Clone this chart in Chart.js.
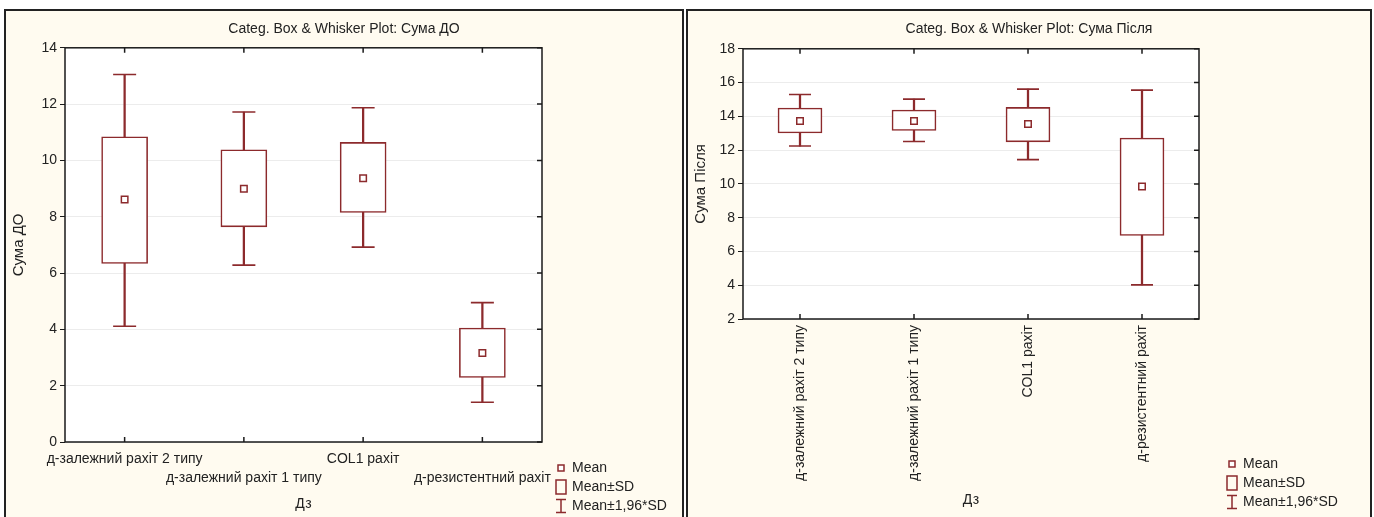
<!DOCTYPE html>
<html lang="uk">
<head>
  <meta charset="UTF-8" />
  <title>Categ. Box & Whisker Plot</title>
  <script src="https://cdn.jsdelivr.net/npm/chart.js"></script>
  <style>
    body {
      margin: 0;
      width: 1374px;
      height: 517px;
      background: #fff;
      font-family: "Liberation Sans", Arial, sans-serif;
      overflow: hidden;
      position: relative;
    }
    .panel {
      position: absolute;
      top: 9px;
      height: 520px;
      background: #fffbf0;
      border: 2px solid #222;
      box-sizing: border-box;
    }
    .panel canvas {
      position: absolute;
      left: 0;
      top: 0;
    }
    .legend {
      position: absolute;
      font-size: 14px;
      color: #222;
    }
    .legend div {
      position: relative;
      height: 19px;
      line-height: 19px;
      padding-left: 17px;
    }
    .legend svg {
      position: absolute;
      left: 0;
      top: 2px;
    }
  </style>
</head>
<body>
  <div class="panel" style="left:4px; width:680px;">
    <canvas id="chartDo" width="676" height="506"></canvas>
  </div>
  <div class="panel" style="left:686px; width:686px;">
    <canvas id="chartPislia" width="682" height="506"></canvas>
  </div>

  <div class="legend" style="left:555px; top:458px;">
    <div><svg width="12" height="16"><rect x="3" y="5" width="6" height="6" fill="#fff" stroke="#8c2a2c" stroke-width="1.5"/></svg>Mean</div>
    <div><svg width="12" height="16"><rect x="1" y="1" width="10" height="14" fill="none" stroke="#8c2a2c" stroke-width="1.5"/></svg>Mean±SD</div>
    <div><svg width="12" height="16"><path d="M1 1.5H11M6 1.5V14.5M1 14.5H11" fill="none" stroke="#8c2a2c" stroke-width="1.5"/></svg>Mean±1,96*SD</div>
  </div>
  <div class="legend" style="left:1226px; top:454px;">
    <div><svg width="12" height="16"><rect x="3" y="5" width="6" height="6" fill="#fff" stroke="#8c2a2c" stroke-width="1.5"/></svg>Mean</div>
    <div><svg width="12" height="16"><rect x="1" y="1" width="10" height="14" fill="none" stroke="#8c2a2c" stroke-width="1.5"/></svg>Mean±SD</div>
    <div><svg width="12" height="16"><path d="M1 1.5H11M6 1.5V14.5M1 14.5H11" fill="none" stroke="#8c2a2c" stroke-width="1.5"/></svg>Mean±1,96*SD</div>
  </div>

  <script>
    // categories (Дз)
    const categories = ["д-залежний рахіт 2 типу", "д-залежний рахіт 1 типу", "COL1 рахіт", "д-резистентний рахіт"];

    // Сума ДО
    const yTicksDo = [0, 2, 4, 6, 8, 10, 12, 14];
    const meanDo   = [8.61, 8.99, 9.37, 3.16];
    const sdLowDo  = [6.34, 7.64, 8.15, 2.29];
    const sdHighDo = [10.84, 10.38, 10.64, 4.05];
    const ciLowDo  = [4.11, 6.28, 6.92, 1.41];
    const ciHighDo = [13.05, 11.72, 11.87, 4.95];

    // Сума Після
    const yTicksPislia = [2, 4, 6, 8, 10, 12, 14, 16, 18];
    const meanPislia   = [13.73, 13.73, 13.55, 9.85];
    const sdLowPislia  = [13.02, 13.16, 12.49, 6.95];
    const sdHighPislia = [14.49, 14.37, 14.53, 12.72];
    const ciLowPislia  = [12.24, 12.51, 11.44, 4.02];
    const ciHighPislia = [15.29, 15.02, 15.61, 15.55];

    const RED = "#8c2a2c";
    const FONT = "'Liberation Sans', Arial, sans-serif";

    // white plot area, black frame and inward ticks like the original
    const framePlugin = {
      id: "frame",
      beforeDraw(chart) {
        const { ctx, chartArea: a } = chart;
        ctx.save();
        ctx.fillStyle = "#fff";
        ctx.fillRect(a.left, a.top, a.width, a.height);
        ctx.restore();
      },
      afterDraw(chart) {
        const { ctx, chartArea: a, scales } = chart;
        ctx.save();
        ctx.strokeStyle = "#1a1a1a";
        ctx.lineWidth = 1.5;
        ctx.strokeRect(a.left, a.top, a.width, a.height);
        ctx.beginPath();
        scales.x.ticks.forEach((t, i) => {
          const px = scales.x.getPixelForTick(i);
          ctx.moveTo(px, a.top); ctx.lineTo(px, a.top + 5);
          ctx.moveTo(px, a.bottom); ctx.lineTo(px, a.bottom - 5);
        });
        scales.y.ticks.forEach((t, i) => {
          const py = scales.y.getPixelForTick(i);
          ctx.moveTo(a.right, py); ctx.lineTo(a.right - 5, py);
        });
        ctx.stroke();
        ctx.restore();
      }
    };

    function makeChart(id, o) {
      const ctx = document.getElementById(id).getContext("2d");
      return new Chart(ctx, {
        type: "bar",
        data: {
          labels: categories,
          datasets: [
            {
              type: "line", data: o.mean, showLine: false, order: 0,
              pointStyle: "rect", pointRadius: 4.6,
              pointBackgroundColor: "#fff", pointBorderColor: RED, pointBorderWidth: 1.5
            },
            {
              type: "line", data: o.ciHigh, showLine: false, order: 1,
              pointStyle: "line", pointRadius: o.cap, pointBorderColor: RED, pointBorderWidth: 1.6
            },
            {
              type: "line", data: o.ciLow, showLine: false, order: 1,
              pointStyle: "line", pointRadius: o.cap, pointBorderColor: RED, pointBorderWidth: 1.6
            },
            {
              data: o.sdLow.map((v, i) => [v, o.sdHigh[i]]), order: 2, grouped: false,
              barThickness: o.box, backgroundColor: "#fff", borderColor: RED,
              borderWidth: 1.6, borderSkipped: false
            },
            {
              data: o.ciLow.map((v, i) => [v, o.ciHigh[i]]), order: 3, grouped: false,
              barThickness: 1.6, backgroundColor: RED, borderWidth: 0
            }
          ]
        },
        options: {
          responsive: false,
          animation: false,
          events: [],
          plugins: {
            legend: { display: false },
            tooltip: { enabled: false },
            title: {
              display: true, text: o.title, color: "#222",
              font: { family: FONT, size: 14, weight: "normal" },
              padding: { top: 10, bottom: o.titleGap }
            }
          },
          scales: {
            x: {
              offset: true,
              grid: { display: false, drawTicks: false },
              border: { display: false },
              afterFit: s => { s.height = o.xHeight; },
              ticks: {
                color: "#222", autoSkip: false, padding: o.xPad,
                minRotation: o.rot, maxRotation: o.rot,
                font: { family: FONT, size: 14, lineHeight: 1.36 },
                callback: (v, i) => (o.stagger && i % 2) ? ["", categories[i]] : categories[i]
              },
              title: {
                display: true, text: "Дз", color: "#222",
                font: { family: FONT, size: 14 }, padding: { top: 0, bottom: o.xTitleBottom }
              }
            },
            y: {
              min: o.yTicks[0], max: o.yTicks[o.yTicks.length - 1],
              afterFit: s => { s.width = o.yWidth; },
              grid: { color: "#ececec", tickColor: "#1a1a1a", tickLength: 5 },
              border: { display: false },
              ticks: {
                stepSize: o.yTicks[1] - o.yTicks[0], color: "#222", padding: 3,
                font: { family: FONT, size: 14 }
              },
              title: {
                display: true, text: o.yTitle, color: "#222",
                font: { family: FONT, size: 15 }, padding: { top: 4, bottom: 0 }
              }
            },
            // empty right-hand box that keeps room for the legend
            y2: {
              position: "right",
              afterFit: s => { s.width = o.padRight; },
              grid: { display: false, drawTicks: false },
              border: { display: false },
              ticks: { display: false }
            }
          }
        },
        plugins: [framePlugin]
      });
    }

    makeChart("chartDo", {
      title: "Categ. Box & Whisker Plot: Сума ДО", yTitle: "Сума ДО",
      yTicks: yTicksDo, mean: meanDo, sdLow: sdLowDo, sdHigh: sdHighDo,
      ciLow: ciLowDo, ciHigh: ciHighDo,
      box: 46, cap: 11.5, padRight: 140, titleGap: 10, xHeight: 75, yWidth: 59,
      xPad: 8, rot: 0, stagger: true, xTitleBottom: 4
    });

    makeChart("chartPislia", {
      title: "Categ. Box & Whisker Plot: Сума Після", yTitle: "Сума Після",
      yTicks: yTicksPislia, mean: meanPislia, sdLow: sdLowPislia, sdHigh: sdHighPislia,
      ciLow: ciLowPislia, ciHigh: ciHighPislia,
      box: 44, cap: 11, padRight: 171, titleGap: 11, xHeight: 198, yWidth: 55,
      xPad: 6, rot: 90, stagger: false, xTitleBottom: 8
    });
  </script>
</body>
</html>
